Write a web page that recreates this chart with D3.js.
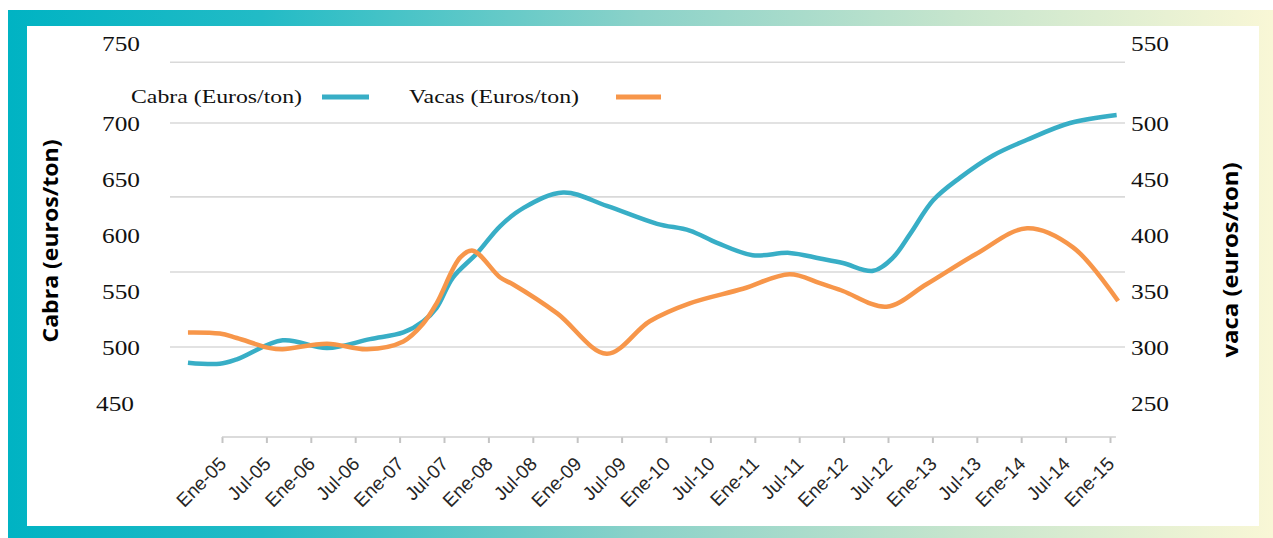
<!DOCTYPE html>
<html>
<head>
<meta charset="utf-8">
<script src="https://cdn.jsdelivr.net/npm/d3@7"></script>
<style>
  body { margin: 0; background: #fff; }
  svg { display: block; }
</style>
</head>
<body>
<div id="chart"></div>
<script>
// x positions are months counted from Ene-05
const tickLabels = ["Ene-05","Jul-05","Ene-06","Jul-06","Ene-07","Jul-07","Ene-08","Jul-08","Ene-09","Jul-09",
  "Ene-10","Jul-10","Ene-11","Jul-11","Ene-12","Jul-12","Ene-13","Jul-13","Ene-14","Jul-14","Ene-15"];

const leftTicks = [450, 500, 550, 600, 650, 700, 750];
const rightTicks = [250, 300, 350, 400, 450, 500, 550];
const gridValues = [500, 567, 634, 700, 738];

const cabraMonths = [-4.6, -0.3, 2.0, 8.2, 14.2, 20.0, 24.5, 27.2, 29.0, 31.2, 34.5, 37.6, 40.7, 46.1, 52.0,
  58.8, 63.2, 66.9, 71.7, 76.7, 80.8, 83.9, 88.0, 90.7, 93.0, 96.1, 99.7, 104.2, 108.8, 114.6, 120.9];
const cabraValues = [486, 485, 489, 506, 499, 507, 513, 523, 535, 562, 584, 608, 624, 638, 626,
  610, 604, 593, 582, 584, 579, 575, 568, 580, 601, 631, 651, 671, 685, 700, 705];

const vacasMonths = [-4.6, -0.3, 2.0, 6.5, 8.2, 14.2, 19.6, 24.5, 27.2, 29.0, 32.2, 33.9, 37.6, 39.3, 45.3,
  52.0, 57.8, 63.2, 70.4, 76.7, 80.8, 83.9, 89.8, 95.2, 101.9, 108.8, 115.0, 121.1];
const vacasValues = [313, 312, 308, 299, 298, 303, 298, 305, 321, 339, 380, 386, 362, 356, 330,
  294, 323, 339, 352, 365, 357, 350, 336, 356, 383, 406, 389, 341];

const W = 1273, H = 538;
const blue = "#38aec6", orange = "#f7964a";

const svg = d3.select("#chart").append("svg")
  .attr("width", W).attr("height", H);

// gradient frame
const grad = svg.append("defs").append("linearGradient")
  .attr("id", "frame").attr("x1", "0%").attr("x2", "100%");
[[0, "#00b3c3"], [0.2, "#22bbc6"], [0.5, "#8bd2c9"], [0.75, "#c6e5cd"], [1, "#f9f7d6"]]
  .forEach(s => grad.append("stop").attr("offset", s[0]).attr("stop-color", s[1]));

svg.append("rect").attr("x", 8).attr("y", 10).attr("width", W - 8).attr("height", H - 10)
  .attr("fill", "url(#frame)");
svg.append("rect").attr("x", 27).attr("y", 26).attr("width", 1232).attr("height", 500)
  .attr("fill", "#fff");

const x = d3.scaleLinear().domain([0, 120]).range([222, 1110]);
const yL = d3.scaleLinear().domain([450, 700, 750]).range([403, 123, 43]);
const yR = d3.scaleLinear().domain([250, 500, 550]).range([403, 123, 43]);

// gridlines
svg.append("g").selectAll("line")
  .data(gridValues)
  .join("line")
    .attr("x1", 170).attr("x2", 1125)
    .attr("y1", d => yL(d)).attr("y2", d => yL(d))
    .attr("stroke", "#d9d9d9").attr("stroke-width", 1.6);

// y axis labels
const serif = "'Liberation Serif', 'Times New Roman', serif";
svg.append("g").selectAll("text")
  .data(leftTicks)
  .join("text")
    .attr("x", d => d === 450 ? 134 : 140).attr("y", d => yL(d))
    .attr("dy", "0.35em")
    .attr("text-anchor", "end")
    .attr("font-family", serif).attr("font-size", 22)
    .attr("textLength", 38).attr("lengthAdjust", "spacingAndGlyphs")
    .attr("fill", "#111")
    .text(d => d);

svg.append("g").selectAll("text")
  .data(rightTicks)
  .join("text")
    .attr("x", 1131).attr("y", d => yR(d))
    .attr("dy", "0.35em")
    .attr("font-family", serif).attr("font-size", 22)
    .attr("textLength", 38).attr("lengthAdjust", "spacingAndGlyphs")
    .attr("fill", "#111")
    .text(d => d);

// axis titles
const sans = "'Open Sans', 'DejaVu Sans', sans-serif";
svg.append("text")
  .attr("transform", "translate(58,241) rotate(-90)")
  .attr("text-anchor", "middle")
  .attr("font-family", sans).attr("font-weight", "bold").attr("font-size", 22)
  .attr("textLength", 203).attr("lengthAdjust", "spacingAndGlyphs")
  .attr("fill", "#000")
  .text("Cabra (euros/ton)");

svg.append("text")
  .attr("transform", "translate(1238,260) rotate(-90)")
  .attr("text-anchor", "middle")
  .attr("font-family", sans).attr("font-weight", "bold").attr("font-size", 22)
  .attr("textLength", 195).attr("lengthAdjust", "spacingAndGlyphs")
  .attr("fill", "#000")
  .text("vaca (euros/ton)");

// x axis
const xAxis = d3.axisBottom(x)
  .tickValues(d3.range(0, 121, 6))
  .tickFormat((d, i) => tickLabels[i])
  .tickSize(6)
  .tickSizeOuter(0);

const gx = svg.append("g").attr("transform", "translate(0,437)").call(xAxis);
gx.select(".domain").remove();
gx.append("line")
  .attr("x1", x(0)).attr("x2", x(120.8))
  .attr("stroke", "#cfcfcf").attr("stroke-width", 1.6);
gx.selectAll(".tick line").attr("stroke", "#c4c4c4").attr("stroke-width", 2);
gx.selectAll(".tick text")
  .attr("font-family", "'Liberation Sans', Arial, sans-serif")
  .attr("font-size", 19)
  .attr("fill", "#262626")
  .attr("text-anchor", "end")
  .attr("dy", null).attr("y", null)
  .attr("transform", "translate(5,28) rotate(-45)");

// lines
const lineL = d3.line().x(d => x(d[0])).y(d => yL(d[1])).curve(d3.curveCatmullRom.alpha(0.5));
const lineR = d3.line().x(d => x(d[0])).y(d => yR(d[1])).curve(d3.curveCatmullRom.alpha(0.5));

svg.append("path")
  .datum(d3.zip(cabraMonths, cabraValues))
  .attr("fill", "none").attr("stroke", blue).attr("stroke-width", 4.5)
  .attr("d", lineL);

svg.append("path")
  .datum(d3.zip(vacasMonths, vacasValues))
  .attr("fill", "none").attr("stroke", orange).attr("stroke-width", 4.5)
  .attr("d", lineR);

// legend
const legend = [
  {name: "Cabra (Euros/ton)", color: blue, tx: 131, len: 171, lx1: 322, lx2: 369},
  {name: "Vacas (Euros/ton)", color: orange, tx: 409, len: 170, lx1: 616, lx2: 661}
];
const lg = svg.append("g");
lg.selectAll("text")
  .data(legend)
  .join("text")
    .attr("x", d => d.tx).attr("y", 103)
    .attr("font-family", serif).attr("font-size", 19)
    .attr("textLength", d => d.len).attr("lengthAdjust", "spacingAndGlyphs")
    .attr("fill", "#111")
    .text(d => d.name);
lg.selectAll("line")
  .data(legend)
  .join("line")
    .attr("x1", d => d.lx1).attr("x2", d => d.lx2)
    .attr("y1", 97).attr("y2", 97)
    .attr("stroke", d => d.color).attr("stroke-width", 5);
</script>
</body>
</html>
